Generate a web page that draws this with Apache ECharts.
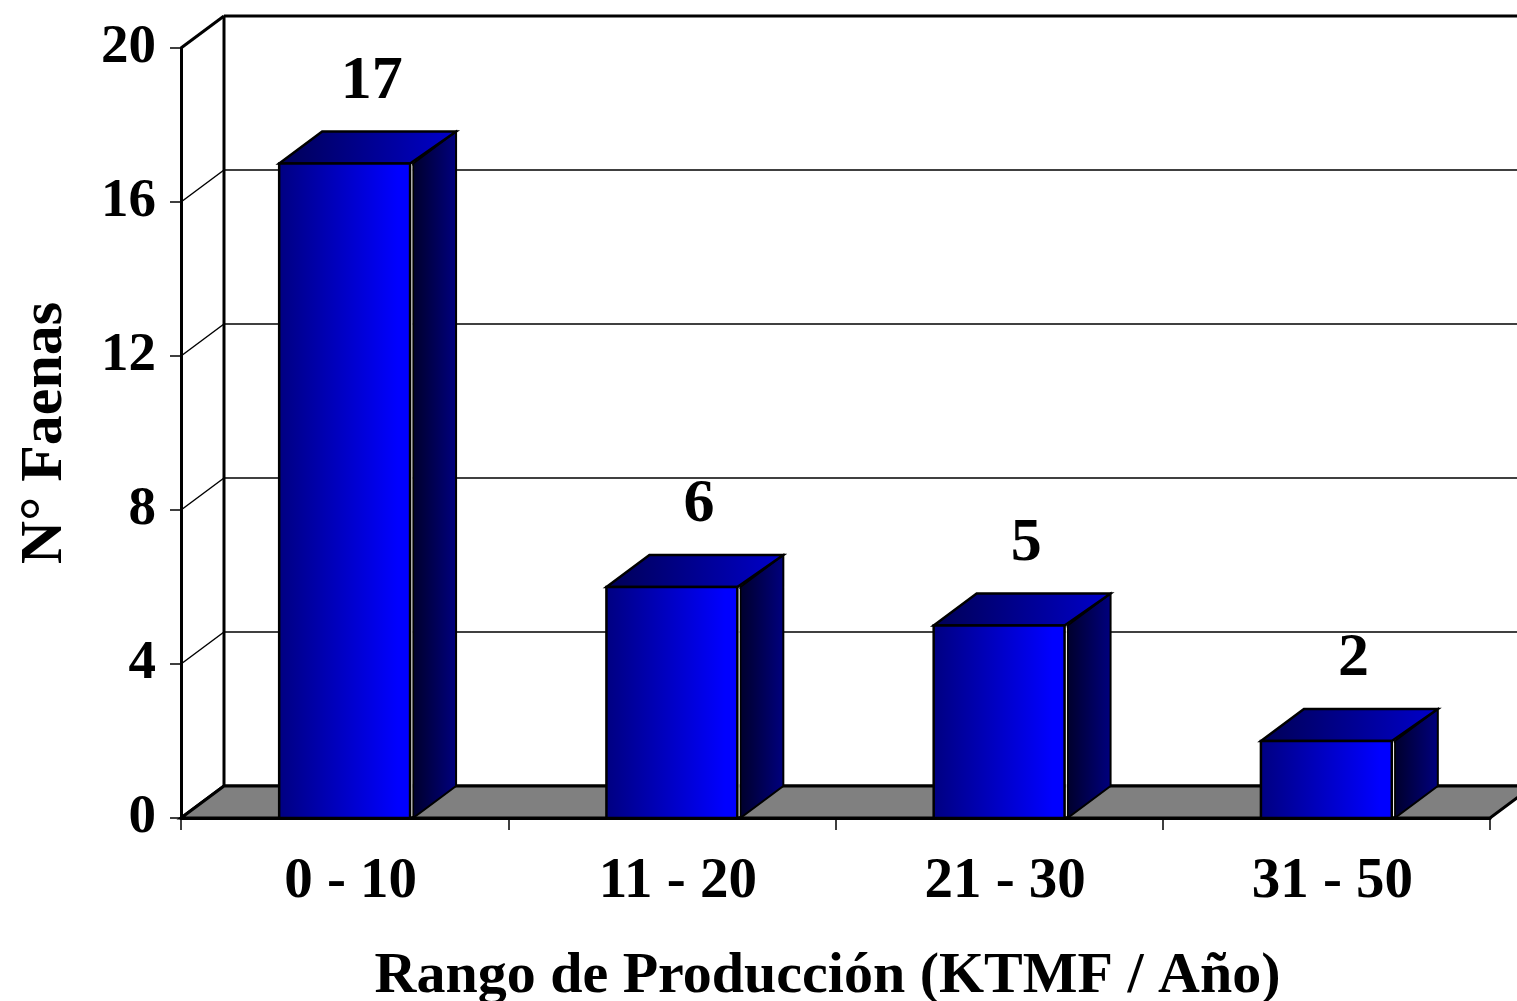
<!DOCTYPE html>
<html><head><meta charset="utf-8">
<script src="https://cdn.jsdelivr.net/npm/echarts@6/dist/echarts.min.js"></script>
<style>html,body{margin:0;padding:0;background:#fff}#c{width:1517px;height:1001px}</style>
</head><body><div id="c"></div>
<script>
// ---- data ----
const categories = ['0 - 10', '11 - 20', '21 - 30', '31 - 50'];
const values = [17, 6, 5, 2];
const yTicks = [0, 4, 8, 12, 16, 20];
const xTitle = 'Rango de Producción (KTMF / Año)';
const yTitle = 'N° Faenas';

// ---- style ----
const DX = 43, DY = -32;
const FONT = '"Liberation Serif","Times New Roman",serif';
const LABEL_DX = 27, LABEL_GAP = 50;

const chart = echarts.init(document.getElementById('c'), null, {renderer: 'canvas'});

function renderWall(params, api) {
  const cs = params.coordSys;
  const v = api.value(1);
  const y = api.coord([0, v])[1];
  const left = cs.x, right = cs.x + cs.width;
  const heavy = (v === yTicks[0] || v === yTicks[yTicks.length - 1]);
  const lw = heavy ? 3 : 1.5;
  const children = [
    {type: 'line', shape: {x1: left, y1: y, x2: left + DX, y2: y + DY}, style: {stroke: '#000', lineWidth: lw}},
    {type: 'line', shape: {x1: left + DX, y1: y + DY, x2: right + DX + 30, y2: y + DY}, style: {stroke: '#000', lineWidth: lw}}
  ];
  if (params.dataIndex === 0) {
    const yTop = api.coord([0, yTicks[yTicks.length - 1]])[1];
    children.push({type: 'line', shape: {x1: left + DX, y1: yTop + DY, x2: left + DX, y2: y + DY}, style: {stroke: '#000', lineWidth: 3}});
  }
  return {type: 'group', children};
}

function renderFloor(params, api) {
  const cs = params.coordSys;
  const y = api.coord([0, api.value(1)])[1];
  const left = cs.x, right = cs.x + cs.width;
  return {
    type: 'polygon',
    shape: {points: [[left, y], [right, y], [right + DX, y + DY], [left + DX, y + DY]]},
    style: {fill: '#808080', stroke: '#000', lineWidth: 3, lineJoin: 'miter'}
  };
}

function renderBar(params, api) {
  const i = api.value(0), v = api.value(1);
  const top = api.coord([i, v]);
  const base = api.coord([i, 0]);
  const w = api.size([1, 0])[0] * 0.4 / 2;
  const c = top[0];
  const yt = top[1], yb = base[1];
  const L = c - w, R = c + w;
  const G = echarts.graphic.LinearGradient;
  return {
    type: 'group',
    children: [
      {type: 'polygon', shape: {points: [[R + 3, yt], [R + 3 + DX, yt + DY], [R + 3 + DX, yb + DY], [R + 3, yb]]},
        style: {fill: new G(0, 0, 1, 0, [{offset: 0, color: '#00002a'}, {offset: 1, color: '#000080'}]), stroke: '#000', lineWidth: 2}},
      {type: 'line', shape: {x1: R + 1.5, y1: yt + 2, x2: R + 1.5, y2: yb - 2}, style: {stroke: '#fff', lineWidth: 1.5}},
      {type: 'polygon', shape: {points: [[L, yt], [L + DX, yt + DY], [R + 3 + DX, yt + DY], [R, yt]]},
        style: {fill: new G(0, 0, 1, 0, [{offset: 0, color: '#000055'}, {offset: 1, color: '#0000cc'}]), stroke: '#000', lineWidth: 2.5}},
      {type: 'rect', shape: {x: L, y: yt, width: R - L, height: yb - yt},
        style: {fill: new G(0, 0, 1, 0, [{offset: 0, color: '#000080'}, {offset: 0.9, color: '#0000ff'}, {offset: 1, color: '#0000ff'}]), stroke: '#000', lineWidth: 2.5}},
      {type: 'text', x: c + LABEL_DX, y: yt + DY - LABEL_GAP,
        style: {text: String(v), fontFamily: FONT, fontWeight: 'bold', fontSize: 62, fill: '#000', align: 'center', verticalAlign: 'middle'}}
    ]
  };
}

chart.setOption({
  animation: false,
  backgroundColor: '#fff',
  grid: {left: 181, right: 27, top: 48, bottom: 183, containLabel: false, outerBoundsMode: 'none'},
  xAxis: {
    type: 'category', data: categories,
    axisLine: {show: true, lineStyle: {color: '#000', width: 3}},
    axisTick: {show: true, length: 12, lineStyle: {color: '#000', width: 1.5}},
    axisLabel: {color: '#000', fontFamily: FONT, fontWeight: 'bold', fontSize: 57, margin: 36, padding: [0, 0, 0, 12]},
    name: xTitle, nameLocation: 'middle', nameGap: 130,
    nameTextStyle: {color: '#000', fontFamily: FONT, fontWeight: 'bold', fontSize: 58, padding: [0, 16, 0, 0]}
  },
  yAxis: {
    type: 'value', min: 0, max: 20, interval: 4,
    axisLine: {show: true, lineStyle: {color: '#000', width: 3}},
    axisTick: {show: true, length: 11, lineStyle: {color: '#000', width: 1.5}},
    axisLabel: {color: '#000', fontFamily: FONT, fontWeight: 'bold', fontSize: 55, margin: 25},
    splitLine: {show: false},
    name: yTitle, nameLocation: 'middle', nameGap: 106,
    nameTextStyle: {color: '#000', fontFamily: FONT, fontWeight: 'bold', fontSize: 60}
  },
  series: [
    {type: 'custom', z: 1, clip: false, renderItem: renderWall, data: yTicks.map(v => [0, v]), silent: true},
    {type: 'custom', z: 2, clip: false, renderItem: renderFloor, data: [[0, yTicks[0]]], silent: true},
    {type: 'custom', z: 3, clip: false, renderItem: renderBar, data: values.map((v, i) => [i, v])}
  ]
});
</script>
</body></html>
